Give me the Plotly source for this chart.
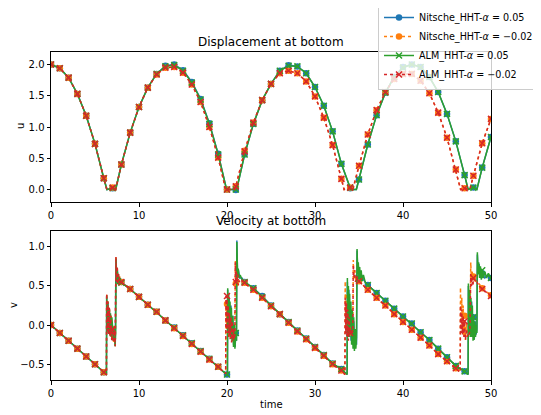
import plotly.graph_objects as go

# ---------------- data (time, value) ----------------
series_names = [
    "Nitsche_HHT-<i>α</i> = 0.05",
    "Nitsche_HHT-<i>α</i> = −0.02",
    "ALM_HHT-<i>α</i> = 0.05",
    "ALM_HHT-<i>α</i> = −0.02",
]
x_ticks = [0, 10, 20, 30, 40, 50]
u_ticks = [0.0, 0.5, 1.0, 1.5, 2.0]
v_ticks = [-0.5, 0.0, 0.5, 1.0]

# displacement u
u_nitsche_005 = [(0,2.00),(1,1.94),(2,1.79),(3,1.53),(4,1.18),(5,0.73),(6,0.18),(6.35,0.0),(7,0.02),(7.35,0.0),
    (8,0.40),(9,0.91),(10,1.32),(11,1.63),(12,1.85),(13,1.98),(14,2.00),(15,1.91),(16,1.72),(17,1.45),(18,1.06),
    (19,0.57),(19.95,0.0),(20,0.0),(21,-0.01),(21.1,0.0),(22,0.56),(23,1.05),(24,1.43),(25,1.69),(26,1.90),(27,1.99),
    (28,1.97),(29,1.86),(30,1.64),(31,1.34),(32,0.93),(33,0.41),(34,0.02),(34.05,0.0),(34.7,0.0),(35,0.16),(36,0.72),
    (37,1.19),(38,1.55),(39,1.80),(40,1.96),(41,2.00),(42,1.96),(43,1.80),(44,1.56),(45,1.21),(46,0.77),(47,0.23),
    (47.4,0.0),(48,0.03),(48.4,0.0),(49,0.35),(50,0.84)]
u_nitsche_m002 = [(0,2.00),(1,1.94),(2,1.79),(3,1.53),(4,1.18),(5,0.73),(6,0.18),(6.35,0.0),(7,0.03),(7.35,0.0),
    (8,0.40),(9,0.91),(10,1.32),(11,1.63),(12,1.84),(13,1.95),(14,1.96),(15,1.87),(16,1.68),(17,1.40),(18,1.00),
    (19,0.51),(19.85,0.0),(20,0.0),(20.9,0.0),(21,0.05),(22,0.62),(23,1.07),(24,1.43),(25,1.69),(26,1.86),(27,1.90),
    (28,1.86),(29,1.73),(30,1.49),(31,1.15),(32,0.71),(33,0.17),(33.3,0.0),(34,0.03),(34.3,0.0),(35,0.38),(36,0.88),
    (37,1.27),(38,1.56),(39,1.77),(40,1.85),(41,1.85),(42,1.74),(43,1.54),(44,1.23),(45,0.83),(46,0.32),(46.55,0.0),
    (47,0.02),(47.6,0.0),(48,0.22),(49,0.74),(50,1.13)]
u_alm_005 = [(0,2.00),(1,1.94),(2,1.79),(3,1.53),(4,1.18),(5,0.73),(6,0.18),(6.35,0.0),(7,0.02),(7.35,0.0),
    (8,0.40),(9,0.91),(10,1.32),(11,1.63),(12,1.85),(13,1.97),(14,1.99),(15,1.90),(16,1.71),(17,1.44),(18,1.05),
    (19,0.56),(19.95,0.0),(20,0.0),(21,0.0),(21.1,0.0),(22,0.56),(23,1.05),(24,1.43),(25,1.69),(26,1.90),(27,1.98),
    (28,1.97),(29,1.86),(30,1.64),(31,1.34),(32,0.93),(33,0.41),(34,0.03),(34.05,0.0),(34.7,0.0),(35,0.16),(36,0.72),
    (37,1.19),(38,1.55),(39,1.80),(40,1.95),(41,2.00),(42,1.96),(43,1.80),(44,1.56),(45,1.21),(46,0.77),(47,0.23),
    (47.4,0.0),(48,0.03),(48.4,0.0),(49,0.35),(50,0.84)]
u_alm_m002 = [(0,2.00),(1,1.94),(2,1.79),(3,1.53),(4,1.18),(5,0.73),(6,0.18),(6.35,0.0),(7,0.03),(7.35,0.0),
    (8,0.40),(9,0.91),(10,1.32),(11,1.63),(12,1.84),(13,1.95),(14,1.96),(15,1.87),(16,1.68),(17,1.40),(18,1.00),
    (19,0.51),(19.85,0.0),(20,0.0),(20.9,0.0),(21,0.05),(22,0.61),(23,1.07),(24,1.43),(25,1.69),(26,1.86),(27,1.90),
    (28,1.86),(29,1.73),(30,1.49),(31,1.15),(32,0.71),(33,0.17),(33.3,0.0),(34,0.03),(34.3,0.0),(35,0.38),(36,0.88),
    (37,1.27),(38,1.56),(39,1.77),(40,1.85),(41,1.85),(42,1.74),(43,1.54),(44,1.23),(45,0.83),(46,0.32),(46.55,0.0),
    (47,0.02),(47.6,0.0),(48,0.22),(49,0.74),(50,1.13)]

# velocity v
v_nitsche_005 = [(0,0.0),(1,-0.1),(2,-0.2),(3,-0.3),(4,-0.4),(5,-0.5),(6,-0.6),(6.3,-0.63),
    (6.33,0.36),(6.4,-0.05),(6.48,0.28),(6.56,-0.1),(6.65,0.2),(6.74,-0.12),(6.84,0.12),(6.92,-0.15),(7,-0.05),
    (7.1,-0.2),(7.2,-0.05),(7.3,-0.25),(7.38,0.83),(7.46,0.55),(7.55,0.7),(7.65,0.53),(7.8,0.6),(8,0.55),
    (9,0.46),(10,0.36),(11,0.26),(12,0.17),(13,0.06),(14,-0.03),(15,-0.13),(16,-0.23),(17,-0.33),(18,-0.43),
    (19,-0.53),(20,-0.63),(20.05,-0.64),(20.08,0.45),(20.16,-0.05),(20.25,0.35),(20.35,-0.12),(20.45,0.25),
    (20.55,-0.18),(20.65,0.12),(20.75,-0.25),(20.85,0.0),(20.92,-0.28),(21,-0.1),(21.07,-0.2),(21.12,1.08),
    (21.2,0.62),(21.3,0.7),(21.45,0.6),(21.7,0.6),(22,0.55),(23,0.47),(24,0.37),(25,0.25),(26,0.14),(27,0.04),
    (28,-0.07),(29,-0.17),(30,-0.28),(31,-0.38),(32,-0.49),(33,-0.56),(33.65,-0.63),
    (33.68,0.55),(33.76,-0.1),(33.85,0.45),(33.93,-0.15),(34,0.1),(34.1,-0.2),(34.2,0.15),(34.3,-0.25),
    (34.4,0.05),(34.5,-0.3),(34.6,-0.1),(34.72,-0.25),(34.78,0.95),(34.86,0.65),(34.94,0.75),(35,0.6),
    (35.2,0.66),(35.5,0.58),(36,0.51),(37,0.41),(38,0.31),(39,0.21),(40,0.11),(41,0.02),(42,-0.09),(43,-0.19),
    (44,-0.3),(45,-0.41),(46,-0.52),(47,-0.59),(47.4,-0.63),
    (47.43,0.5),(47.52,-0.1),(47.6,0.4),(47.7,-0.12),(47.8,0.3),(47.9,-0.15),(48,0.1),(48.1,-0.18),
    (48.2,0.05),(48.3,-0.12),(48.4,-0.05),(48.45,0.9),(48.55,0.65),(48.65,0.78),(48.8,0.6),(49,0.66),
    (49.3,0.6),(49.6,0.64),(50,0.6)]
v_nitsche_m002 = [(0,0.0),(1,-0.1),(2,-0.2),(3,-0.3),(4,-0.4),(5,-0.5),(6,-0.6),(6.3,-0.63),
    (6.33,0.4),(6.4,-0.05),(6.48,0.3),(6.56,-0.1),(6.65,0.22),(6.74,-0.15),(6.84,0.12),(6.92,-0.18),(7,-0.05),
    (7.1,-0.22),(7.2,-0.05),(7.3,-0.27),(7.38,0.87),(7.46,0.55),(7.55,0.72),(7.65,0.52),(7.8,0.62),(8,0.55),
    (9,0.46),(10,0.36),(11,0.26),(12,0.17),(13,0.06),(14,-0.04),(15,-0.14),(16,-0.24),(17,-0.34),(18,-0.44),
    (19,-0.53),(19.85,-0.62),(19.88,0.28),(19.95,-0.05),(20,0.27),(20.07,-0.1),(20.15,0.22),(20.23,-0.15),
    (20.32,0.15),(20.4,-0.18),(20.5,0.1),(20.6,-0.22),(20.7,0.02),(20.8,-0.2),(20.88,-0.08),(20.95,0.82),
    (21,0.53),(21.07,0.7),(21.15,0.55),(21.25,0.64),(21.4,0.55),(21.6,0.58),(22,0.54),(23,0.45),(24,0.35),
    (25,0.24),(26,0.14),(27,0.03),(28,-0.08),(29,-0.18),(30,-0.29),(31,-0.39),(32,-0.5),(33,-0.58),(33.4,-0.63),
    (33.43,0.56),(33.5,-0.05),(33.58,0.4),(33.66,-0.1),(33.75,0.3),(33.84,-0.15),(33.92,0.15),(34,-0.1),
    (34.1,0.05),(34.2,-0.12),(34.3,-0.05),(34.35,0.83),(34.42,0.6),(34.5,0.72),(34.6,0.56),(34.75,0.64),
    (35,0.56),(36,0.45),(37,0.35),(38,0.25),(39,0.14),(40,0.04),(41,-0.06),(42,-0.16),(43,-0.26),(44,-0.37),
    (45,-0.46),(46,-0.55),(46.5,-0.6),
    (46.53,0.48),(46.6,-0.05),(46.68,0.35),(46.76,-0.1),(46.84,0.25),(46.92,-0.15),(47,0.12),(47.1,-0.19),
    (47.2,0.02),(47.3,-0.15),(47.45,-0.05),(47.6,-0.12),(47.7,0.8),(47.78,0.55),(47.86,0.7),(47.94,0.52),
    (48,0.62),(48.2,0.56),(48.5,0.55),(49,0.47),(50,0.38)]
v_alm_005 = [(0,0.0),(1,-0.1),(2,-0.2),(3,-0.3),(4,-0.4),(5,-0.5),(6,-0.6),(6.3,-0.63),
    (6.33,0.38),(6.38,-0.05),(6.45,0.3),(6.52,-0.1),(6.6,0.22),(6.68,-0.12),(6.76,0.15),(6.84,-0.15),(6.92,0.1),
    (7,-0.08),(7.1,-0.2),(7.2,-0.05),(7.28,-0.27),(7.35,-0.1),(7.4,0.85),(7.46,0.55),(7.52,0.72),(7.58,0.52),
    (7.66,0.65),(7.75,0.53),(7.85,0.6),(8,0.54),
    (9,0.46),(10,0.36),(11,0.26),(12,0.17),(13,0.06),(14,-0.03),(15,-0.13),(16,-0.23),(17,-0.33),(18,-0.43),
    (19,-0.53),(20,-0.63),(20.05,-0.64),(20.08,0.47),(20.14,-0.05),(20.2,0.4),(20.27,-0.12),(20.34,0.3),
    (20.42,-0.15),(20.5,0.22),(20.58,-0.2),(20.66,0.12),(20.74,-0.28),(20.82,0.0),(20.9,-0.3),(21,-0.1),
    (21.08,-0.2),(21.12,1.06),(21.2,0.62),(21.28,0.72),(21.36,0.6),(21.5,0.64),(21.7,0.58),(22,0.55),
    (23,0.47),(24,0.36),(25,0.25),(26,0.14),(27,0.04),(28,-0.07),(29,-0.17),(30,-0.28),(31,-0.38),(32,-0.49),
    (33,-0.56),(33.65,-0.63),
    (33.68,0.6),(33.74,-0.1),(33.8,0.5),(33.87,-0.15),(33.94,0.4),(34,0.0),(34.08,0.3),(34.16,-0.25),
    (34.24,0.2),(34.32,-0.3),(34.4,0.1),(34.48,-0.33),(34.56,-0.05),(34.64,-0.3),(34.72,-0.15),(34.78,0.97),
    (34.85,0.65),(34.92,0.8),(35,0.6),(35.08,0.74),(35.15,0.58),(35.25,0.7),(35.35,0.56),(35.5,0.64),
    (35.7,0.55),(36,0.51),(37,0.41),(38,0.31),(39,0.21),(40,0.11),(41,0.02),(42,-0.09),(43,-0.19),(44,-0.3),
    (45,-0.41),(46,-0.52),(47,-0.59),(47.4,-0.63),
    (47.43,0.53),(47.5,-0.1),(47.57,0.45),(47.64,-0.15),(47.72,0.35),(47.8,-0.15),(47.88,0.25),(47.96,-0.2),
    (48,0.1),(48.08,-0.19),(48.16,0.05),(48.24,-0.15),(48.32,0.0),(48.4,-0.1),(48.45,0.93),(48.52,0.65),
    (48.6,0.8),(48.7,0.6),(48.8,0.75),(48.9,0.58),(49,0.7),(49.1,0.6),(49.3,0.68),(49.5,0.6),(49.7,0.66),
    (50,0.6)]
v_alm_m002 = [(0,0.0),(1,-0.1),(2,-0.2),(3,-0.3),(4,-0.4),(5,-0.5),(6,-0.6),(6.3,-0.63),
    (6.33,0.4),(6.4,-0.08),(6.47,0.3),(6.55,-0.12),(6.63,0.22),(6.72,-0.15),(6.8,0.12),(6.9,-0.2),(7,-0.05),
    (7.1,-0.22),(7.2,-0.08),(7.3,-0.27),(7.38,0.87),(7.45,0.55),(7.52,0.75),(7.6,0.52),(7.7,0.65),(7.85,0.55),
    (8,0.55),(9,0.46),(10,0.36),(11,0.26),(12,0.17),(13,0.06),(14,-0.04),(15,-0.14),(16,-0.24),(17,-0.34),
    (18,-0.44),(19,-0.53),(19.85,-0.62),(19.88,0.37),(19.95,-0.05),(20,0.37),(20.06,-0.1),(20.13,0.25),
    (20.2,-0.15),(20.28,0.15),(20.36,-0.18),(20.44,0.1),(20.52,-0.22),(20.6,0.05),(20.68,-0.2),(20.76,-0.05),
    (20.84,-0.18),(20.9,-0.1),(20.95,0.8),(21,0.55),(21.05,0.7),(21.1,0.55),(21.2,0.65),(21.35,0.55),
    (21.5,0.58),(22,0.54),(23,0.45),(24,0.35),(25,0.24),(26,0.14),(27,0.03),(28,-0.08),(29,-0.18),(30,-0.29),
    (31,-0.39),(32,-0.5),(33,-0.58),(33.4,-0.63),
    (33.43,0.35),(33.5,-0.1),(33.57,0.28),(33.64,-0.15),(33.72,0.2),(33.8,-0.2),(33.88,0.1),(33.96,-0.1),
    (34,-0.1),(34.08,-0.05),(34.16,-0.12),(34.24,-0.08),(34.3,-0.1),(34.35,0.77),(34.42,0.6),(34.5,0.7),
    (34.6,0.55),(34.75,0.62),(35,0.56),(36,0.45),(37,0.35),(38,0.25),(39,0.14),(40,0.04),(41,-0.06),
    (42,-0.16),(43,-0.26),(44,-0.37),(45,-0.46),(46,-0.55),(46.5,-0.6),
    (46.53,0.25),(46.6,-0.1),(46.68,0.2),(46.76,-0.12),(46.84,0.12),(46.92,-0.15),(47,0.05),(47.1,-0.19),
    (47.2,-0.05),(47.3,-0.15),(47.4,-0.1),(47.5,-0.12),(47.6,-0.08),(47.7,0.65),(47.78,0.5),(47.86,0.6),
    (47.94,0.5),(48,0.6),(48.2,0.55),(48.4,0.55),(48.6,0.5),(49,0.46),(50,0.37)]

u_series = [u_nitsche_005, u_nitsche_m002, u_alm_005, u_alm_m002]
v_series = [v_nitsche_005, v_nitsche_m002, v_alm_005, v_alm_m002]

# ---------------- styles ----------------
colors = ["#1f77b4", "#ff7f0e", "#2ca02c", "#d62728"]
dashes = ["solid", "dot", "solid", "dot"]
symbols = ["circle", "circle", "x-thin", "x-thin"]

W, H = 541, 415
OFF = 8  # page body margin in the browser
def px_x(p): return (p - OFF) / W
def px_y(p): return (H - (p - OFF)) / H

fig = go.Figure()

def marker_style(i):
    if symbols[i] == "circle":
        return dict(symbol="circle", size=6.5, color=colors[i], line=dict(width=0))
    return dict(symbol="x-thin", size=6, color=colors[i], line=dict(width=1.5, color=colors[i]))

for axis_idx, series in enumerate([u_series, v_series]):
    xa = "x" if axis_idx == 0 else "x2"
    ya = "y" if axis_idx == 0 else "y2"
    for i, pts in enumerate(series):
        t = [p[0] for p in pts]
        val = [p[1] for p in pts]
        fig.add_trace(go.Scatter(x=t, y=val, mode="lines", xaxis=xa, yaxis=ya,
                                 line=dict(color=colors[i], width=1.5, dash=dashes[i]),
                                 showlegend=False, hoverinfo="skip"))
        tm = [p[0] for p in pts if abs(p[0] - round(p[0])) < 1e-9]
        vm = [p[1] for p in pts if abs(p[0] - round(p[0])) < 1e-9]
        fig.add_trace(go.Scatter(x=tm, y=vm, mode="markers", xaxis=xa, yaxis=ya,
                                 marker=marker_style(i), showlegend=False, hoverinfo="skip"))

# legend entries
for i, name in enumerate(series_names):
    fig.add_trace(go.Scatter(x=[None], y=[None], mode="lines+markers", name=name,
                             line=dict(color=colors[i], width=1.5, dash=dashes[i]),
                             marker=marker_style(i)))

axis_common = dict(showline=True, mirror=True, linecolor="black", linewidth=1,
                   ticks="outside", ticklen=3.5, tickwidth=1, tickcolor="black", automargin=False,
                   showgrid=False, zeroline=False, tickfont=dict(size=10, color="black"))

xdom = [px_x(51), px_x(491)]
fig.update_layout(
    width=W, height=H,
    margin=dict(l=0, r=0, t=0, b=0, pad=0, autoexpand=False),
    paper_bgcolor="white", plot_bgcolor="white",
    font=dict(family="DejaVu Sans", size=10, color="black"),
    xaxis=dict(domain=xdom, range=[0, 50], tickvals=x_ticks, anchor="y", **axis_common),
    yaxis=dict(domain=[px_y(202), px_y(52)], range=[-0.2, 2.2], tickvals=u_ticks,
               tickformat=".1f", anchor="x", **axis_common),
    xaxis2=dict(domain=xdom, range=[0, 50], tickvals=x_ticks, anchor="y2", **axis_common),
    yaxis2=dict(domain=[px_y(380), px_y(231)], range=[-0.7, 1.2], tickvals=v_ticks,
                tickformat=".1f", anchor="x2", **axis_common),
    legend=dict(x=px_x(378), y=px_y(2), xanchor="left", yanchor="top",
                bgcolor="rgba(255,255,255,0.8)", bordercolor="#cccccc", borderwidth=1,
                font=dict(size=9.6, color="black"), tracegroupgap=0, itemwidth=30),
    showlegend=True,
)

annots = [
    dict(text="Displacement at bottom", x=px_x(271), y=px_y(42), font=dict(size=12)),
    dict(text="Velocity at bottom", x=px_x(271), y=px_y(221), font=dict(size=12)),
    dict(text="u", x=px_x(20), y=px_y(126), textangle=-90, font=dict(size=10)),
    dict(text="v", x=px_x(13), y=px_y(305), textangle=-90, font=dict(size=10)),
    dict(text="time", x=px_x(271), y=px_y(404), font=dict(size=10)),
]
for a in annots:
    fig.add_annotation(xref="paper", yref="paper", showarrow=False,
                       xanchor="center", yanchor="middle", **a)

fig.write_html("out.html")
